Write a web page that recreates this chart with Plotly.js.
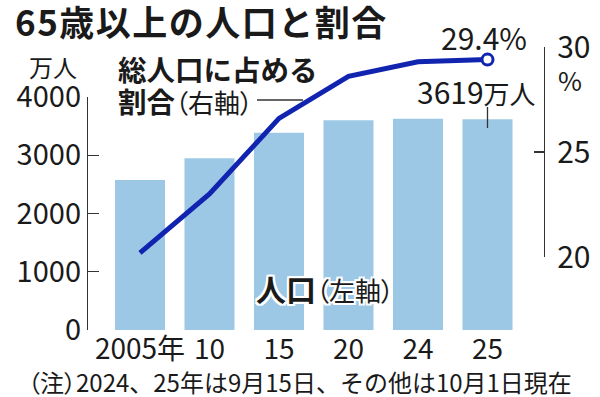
<!DOCTYPE html>
<html>
<head>
<meta charset="utf-8">
<script src="https://cdn.plot.ly/plotly-3.0.1.min.js"></script>
<style>html,body{margin:0;padding:0;background:#fff;}#chart{width:600px;height:397px;}</style>
</head>
<body>
<div id="chart"></div>
<script>
// ---- data ----
var categories = ['2005年', '10', '15', '20', '24', '25'];
var population = [2576, 2948, 3387, 3603, 3625, 3619];   // 万人 (left axis)
var ratio = [20.2, 23.0, 26.6, 28.6, 29.3, 29.4];        // % (right axis)
var leftTicks = [0, 1000, 2000, 3000, 4000];
var rightTicks = [20, 25, 30];
var rightTickText = ['20', '25', '30'];

// ---- layout helpers (pixel -> paper) ----
var L = 88, R = 544, T = 47, B = 330;
function fx(p) { return (p - L) / (R - L); }
function fy(p) { return (B - p) / (B - T); }

var FONT = '"Noto Sans CJK JP", "Noto Sans", sans-serif';
var INK = '#1a1a1a';
var BAR = '#9dc8e5';
var LINE = '#1024b0';
var last = ratio.length - 1;
var PALT = "font-feature-settings:'palt'";

var traces = [
  {
    type: 'bar', x: categories, y: population, xaxis: 'x', yaxis: 'y',
    marker: { color: BAR }, hoverinfo: 'skip'
  },
  {
    type: 'scatter', mode: 'lines', x: categories, y: ratio, xaxis: 'x', yaxis: 'y2',
    line: { color: LINE, width: 5 }, hoverinfo: 'skip', cliponaxis: false
  },
  {
    type: 'scatter', mode: 'markers', x: [categories[last]], y: [ratio[last]], xaxis: 'x', yaxis: 'y2',
    marker: { color: '#ffffff', size: 11, line: { color: LINE, width: 3 } }, hoverinfo: 'skip', cliponaxis: false
  }
];

var halo = '2px 2px 0 #fff, -2px -2px 0 #fff, 2px -2px 0 #fff, -2px 2px 0 #fff, 0 2px 0 #fff, 0 -2px 0 #fff, 2px 0 0 #fff, -2px 0 0 #fff';

var layout = {
  width: 600, height: 397,
  margin: { l: L, r: 600 - R, t: T, b: 397 - B, pad: 0 },
  paper_bgcolor: '#ffffff', plot_bgcolor: 'rgba(0,0,0,0)',
  showlegend: false,
  bargap: 0.28,
  font: { family: FONT, color: INK },
  title: {
    text: '<span style="letter-spacing:1.5px">65歳以上の人口と割合</span>',
    font: { family: FONT, size: 35, color: INK, weight: 'bold' },
    x: 15 / 600, xanchor: 'left', xref: 'container',
    y: 1 - 24 / 397, yanchor: 'middle', yref: 'container'
  },
  xaxis: {
    type: 'category', range: [-0.748, 5.813], domain: [0, 1], anchor: 'y',
    showline: false, showgrid: false, zeroline: false, ticks: '',
    tickfont: { family: FONT, size: 28, color: INK },
    fixedrange: true
  },
  yaxis: {
    domain: [0, fy(97)], range: [0, 4000],
    tickvals: leftTicks, ticktext: leftTicks.map(String),
    ticks: 'inside', ticklen: 11, tickwidth: 1.2, tickcolor: '#333',
    showline: true, linecolor: '#333', linewidth: 1.2,
    showgrid: false, zeroline: false,
    tickfont: { family: FONT, size: 29, color: INK },
    fixedrange: true
  },
  yaxis2: {
    domain: [fy(257), 1], range: [20, 30], anchor: 'x', side: 'right',
    tickvals: rightTicks, ticktext: rightTickText,
    ticks: 'inside', ticklen: 10, tickwidth: 1.2, tickcolor: '#333',
    showline: true, linecolor: '#333', linewidth: 1.2,
    showgrid: false, zeroline: false,
    tickfont: { family: FONT, size: 30, color: INK },
    ticklabelstandoff: 6,
    fixedrange: true
  },
  annotations: [
    { text: '万人', xref: 'paper', yref: 'paper', x: fx(53), y: fy(66), xanchor: 'center', yanchor: 'middle',
      showarrow: false, font: { family: FONT, size: 24, color: INK } },
    { text: '<b>総人口に占める</b>', xref: 'paper', yref: 'paper', x: fx(116), y: fy(68), xanchor: 'left', yanchor: 'middle',
      showarrow: false, font: { family: FONT, size: 28.5, color: INK } },
    { text: '<b>割合</b><span style="font-size:26px;' + PALT + '">（右軸）</span>', xref: 'paper', yref: 'paper', x: fx(116), y: fy(100), xanchor: 'left', yanchor: 'middle',
      showarrow: false, font: { family: FONT, size: 28.5, color: INK } },
    { text: ratio[last].toFixed(1) + '%', xref: 'x', yref: 'y2', x: last, y: ratio[last], xanchor: 'center', yanchor: 'middle',
      xshift: -4, yshift: 23, showarrow: false, font: { family: FONT, size: 30, color: INK } },
    { text: population[last] + '<span style="font-size:26px">万人</span>', xref: 'x', yref: 'y', x: last, y: population[last],
      xanchor: 'center', yanchor: 'middle', xshift: -11, yshift: 28, showarrow: false, font: { family: FONT, size: 30, color: INK } },
    { text: '%', xref: 'paper', yref: 'paper', x: fx(570), y: fy(79), xanchor: 'center', yanchor: 'middle',
      showarrow: false, font: { family: FONT, size: 26, color: INK } },
    { text: '<b>人口</b><span style="font-size:26px;' + PALT + '">（左軸）</span>', xref: 'paper', yref: 'paper', x: fx(254), y: fy(288), xanchor: 'left', yanchor: 'middle',
      showarrow: false, font: { family: FONT, size: 30, color: INK, shadow: halo } },
    { text: '<span style="' + PALT + '">（注）</span>2024、25年は9月15日、その他は10月1日現在', xref: 'paper', yref: 'paper', x: fx(26), y: fy(381), xanchor: 'left', yanchor: 'middle',
      showarrow: false, font: { family: FONT, size: 24, color: INK } }
  ],
  shapes: [
    { type: 'line', xref: 'paper', yref: 'paper', x0: fx(257), x1: fx(303), y0: fy(100), y1: fy(100),
      line: { color: '#333', width: 1.3 } },
    { type: 'line', xref: 'x', yref: 'paper', x0: last, x1: last, y0: fy(107), y1: fy(128),
      line: { color: '#333', width: 1.3 } }
  ]
};

Plotly.newPlot('chart', traces, layout, { staticPlot: true, displayModeBar: false });
</script>
</body>
</html>
